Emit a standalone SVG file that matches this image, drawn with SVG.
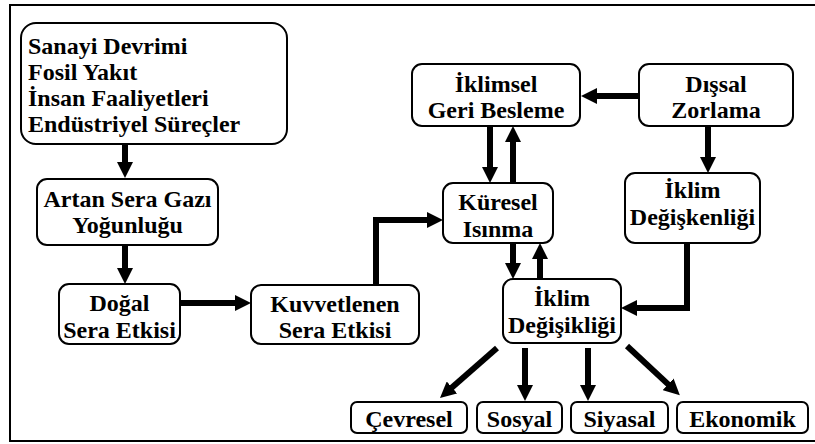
<svg xmlns="http://www.w3.org/2000/svg" width="815" height="444" viewBox="0 0 815 444">
<style>
.box{fill:#fff;stroke:#000;stroke-width:2}
.t{font-family:'Liberation Serif','DejaVu Serif',serif;font-weight:700;font-size:24px;fill:#000;text-anchor:middle}
.tl{text-anchor:start}
.c{fill:none;stroke:#000;stroke-width:6;stroke-linejoin:miter}
</style>
<defs>
<marker id="ah" markerUnits="userSpaceOnUse" markerWidth="16" markerHeight="16" refX="2" refY="8" orient="auto" viewBox="0 0 16 16">
<path d="M0,0 L16,8 L0,16 z" fill="#000"/>
</marker>
</defs>
<rect width="815" height="444" fill="#fff"/>
<path d="M815,5 H10 V441 H815" fill="none" stroke="#000" stroke-width="2"/>
<g id="connectors">
<path class="c" marker-end="url(#ah)" d="M125,144 V164"/>
<path class="c" marker-end="url(#ah)" d="M125,245 V270"/>
<path class="c" marker-end="url(#ah)" d="M180,303 H237"/>
<path class="c" marker-end="url(#ah)" d="M376,285 V220 H429"/>
<path class="c" marker-end="url(#ah)" d="M639,96 H595"/>
<path class="c" marker-end="url(#ah)" d="M490,126 V169"/>
<path class="c" marker-end="url(#ah)" d="M513,183 V140"/>
<path class="c" marker-end="url(#ah)" d="M708,126 V159"/>
<path class="c" marker-end="url(#ah)" d="M513,243 V265"/>
<path class="c" marker-end="url(#ah)" d="M540,279 V257"/>
<path class="c" marker-end="url(#ah)" d="M687,243 V308 H635"/>
<path class="c" marker-end="url(#ah)" d="M497,348 L450.5,388.8"/>
<path class="c" marker-end="url(#ah)" d="M525,348 V387"/>
<path class="c" marker-end="url(#ah)" d="M588,348 V387"/>
<path class="c" marker-end="url(#ah)" d="M627,346 L669.6,385.6"/>
</g>
<g font-family="Liberation Serif, DejaVu Serif, serif">
<g id="n-sanayi">
<rect class="box" x="21" y="23" width="266" height="121" rx="15"/>
<text class="t tl" x="28" y="54">Sanayi Devrimi</text>
<text class="t tl" x="28" y="80">Fosil Yakıt</text>
<text class="t tl" x="28" y="106">İnsan Faaliyetleri</text>
<text class="t tl" x="28" y="132">Endüstriyel Süreçler</text>
</g>
<g id="n-artan">
<rect class="box" x="37" y="179" width="181" height="66" rx="10"/>
<text class="t" x="127.5" y="207">Artan Sera Gazı</text>
<text class="t" x="127.5" y="233">Yoğunluğu</text>
</g>
<g id="n-dogal">
<rect class="box" x="59" y="284" width="121" height="60" rx="10"/>
<text class="t" x="119.5" y="311">Doğal</text>
<text class="t" x="119.5" y="338">Sera Etkisi</text>
</g>
<g id="n-kuvvetlenen">
<rect class="box" x="251" y="285" width="168" height="59" rx="10"/>
<text class="t" x="335" y="312">Kuvvetlenen</text>
<text class="t" x="335" y="338">Sera Etkisi</text>
</g>
<g id="n-iklimsel">
<rect class="box" x="412" y="64" width="168" height="62" rx="10"/>
<text class="t" x="496" y="92">İklimsel</text>
<text class="t" x="496" y="118">Geri Besleme</text>
</g>
<g id="n-dissal">
<rect class="box" x="639" y="64" width="154" height="62" rx="10"/>
<text class="t" x="716" y="92">Dışsal</text>
<text class="t" x="716" y="118">Zorlama</text>
</g>
<g id="n-kuresel">
<rect class="box" x="443" y="183" width="110" height="60" rx="10"/>
<text class="t" x="498" y="210">Küresel</text>
<text class="t" x="498" y="237">Isınma</text>
</g>
<g id="n-degiskenligi">
<rect class="box" x="625" y="173" width="135" height="70" rx="10"/>
<text class="t" x="692.5" y="198">İklim</text>
<text class="t" x="692.5" y="225">Değişkenliği</text>
</g>
<g id="n-degisikligi">
<rect class="box" x="503" y="279" width="118" height="64" rx="10"/>
<text class="t" x="562" y="306">İklim</text>
<text class="t" x="562" y="333">Değişikliği</text>
</g>
<g id="n-cevresel">
<rect class="box" x="351" y="402" width="116" height="31" rx="6"/>
<text class="t" x="409" y="427">Çevresel</text>
</g>
<g id="n-sosyal">
<rect class="box" x="477" y="402" width="85" height="31" rx="6"/>
<text class="t" x="519.5" y="427">Sosyal</text>
</g>
<g id="n-siyasal">
<rect class="box" x="571" y="402" width="97" height="31" rx="6"/>
<text class="t" x="619.5" y="427">Siyasal</text>
</g>
<g id="n-ekonomik">
<rect class="box" x="677" y="402" width="131" height="31" rx="6"/>
<text class="t" x="742.5" y="427">Ekonomik</text>
</g>
</g>
</svg>
